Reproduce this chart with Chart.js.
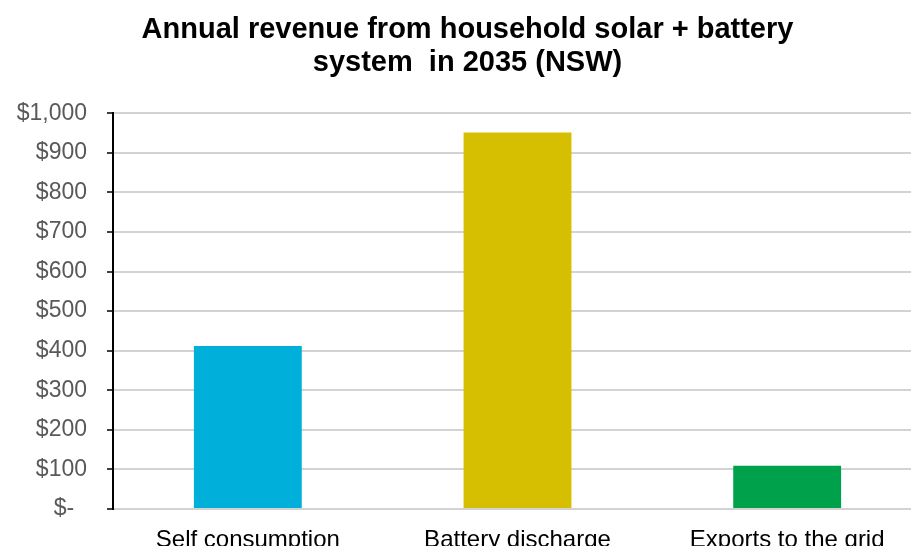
<!DOCTYPE html>
<html>
<head>
<meta charset="utf-8">
<script src="https://cdn.jsdelivr.net/npm/chart.js@4.4.1/dist/chart.umd.min.js"></script>
<style>
  html, body { margin: 0; padding: 0; background: #fff; overflow: hidden; }
  #wrap { width: 935px; height: 570px; }
</style>
</head>
<body>
<div id="wrap"><canvas id="revenueChart" width="935" height="570"></canvas></div>
<script>
// Revenue streams for a household solar + battery system (NSW, 2035)
const categories = ['Self consumption', 'Battery discharge', 'Exports to the grid'];
const revenue = [412, 951, 109];
const barColours = ['#00B0DA', '#D5BF00', '#00A14B'];
const chartTitle = ['Annual revenue from household solar + battery', 'system  in 2035 (NSW)'];

function dollarLabel(value) {
    if (value === 0) return '$-  ';
    return '$' + value.toLocaleString('en-US');
}

const ctx = document.getElementById('revenueChart').getContext('2d');
new Chart(ctx, {
    type: 'bar',
    data: {
        labels: categories,
        datasets: [{
            data: revenue,
            backgroundColor: barColours,
            borderWidth: 0,
            barPercentage: 0.4,
            categoryPercentage: 1.0
        }]
    },
    options: {
        responsive: false,
        animation: false,
        layout: { padding: { left: 13, right: 13, top: 0, bottom: 0 } },
        plugins: {
            legend: { display: false },
            tooltip: { enabled: false },
            title: {
                display: true,
                text: chartTitle,
                color: '#000',
                font: { family: 'Liberation Sans, Arial, sans-serif', size: 29, weight: 'bold', lineHeight: 1.15 },
                padding: { top: 13, bottom: 33.5 }
            }
        },
        scales: {
            x: {
                grid: { display: false },
                border: { display: false },
                ticks: {
                    color: '#000',
                    padding: 9,
                    font: { family: 'Liberation Sans, Arial, sans-serif', size: 24 }
                },
                afterFit: scale => { scale.height = 61; }
            },
            y: {
                min: 0,
                max: 1000,
                ticks: {
                    stepSize: 100,
                    color: '#595959',
                    padding: 20,
                    font: { family: 'Liberation Sans, Arial, sans-serif', size: 23 },
                    callback: value => dollarLabel(value)
                },
                grid: {
                    color: '#d3d3d3',
                    lineWidth: 2,
                    tickColor: '#000',
                    tickLength: 6,
                    tickWidth: 1.5
                },
                border: { display: true, color: '#000', width: 2 },
                afterFit: scale => { scale.width = 100; }
            }
        }
    }
});
</script>
</body>
</html>
